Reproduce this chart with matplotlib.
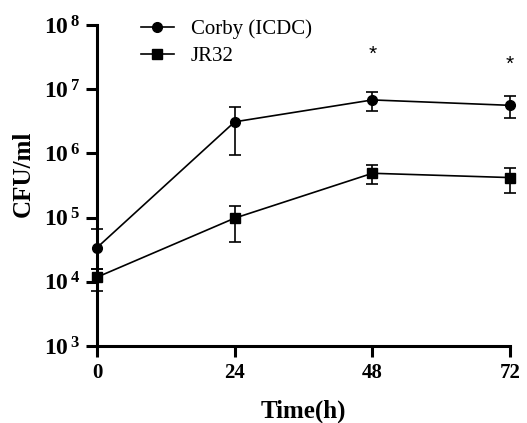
import numpy as np
import matplotlib.pyplot as plt
from matplotlib.lines import Line2D

plt.rcParams["font.family"] = ["Liberation Serif", "DejaVu Serif"]
plt.rcParams["mathtext.fontset"] = "custom"
plt.rcParams["mathtext.rm"] = "Liberation Serif"
plt.rcParams["mathtext.bf"] = "Liberation Serif:bold"

# values
time_h = [0, 24, 48, 72]
corby = [3.4e4, 3.1e6, 6.8e6, 5.6e6]
corby_hi = [6.6e4, 5.2e6, 9.1e6, 7.9e6]
corby_lo = [1.6e4, 9.3e5, 4.6e6, 3.5e6]
jr32 = [1.18e4, 9.8e4, 4.9e5, 4.2e5]
jr32_hi = [1.6e4, 1.5e5, 6.6e5, 6.0e5]
jr32_lo = [7.2e3, 4.2e4, 3.3e5, 2.4e5]
star_x = [48, 72]
star_y = [10**7.54, 10**7.39]
yticks = [1e3, 1e4, 1e5, 1e6, 1e7, 1e8]
ytick_labels = [r"$\mathbf{10^{\,%d}}$" % e for e in range(3, 9)]
xticks = [0, 24, 48, 72]

fig = plt.figure(figsize=(5.27, 4.23), dpi=100)
ax = fig.add_axes([0.184, 0.182, 0.784, 0.759])

series = [
    ("Corby (ICDC)", corby, corby_lo, corby_hi, "o"),
    ("JR32", jr32, jr32_lo, jr32_hi, "s"),
]
handles = []
for name, y, lo, hi, mk in series:
    y = np.array(y)
    yerr = [y - np.array(lo), np.array(hi) - y]
    cont = ax.errorbar(time_h, y, yerr=yerr, color="black", marker=mk,
                       markersize=7, linewidth=1.2, elinewidth=1.2,
                       capsize=4, capthick=1.2)
    for art in cont.get_children():
        art.set_clip_on(False)
    handles.append(Line2D([], [], color="black", marker=mk, markersize=7,
                          linewidth=1.2, label=name))

for x, y in zip(star_x, star_y):
    ax.text(x, y, "*", family="Liberation Sans", fontsize=15,
            ha="center", va="center")

ax.set_yscale("log")
ax.set_ylim(1e3, 1e8)
ax.set_xlim(0, 72)
ax.set_yticks(yticks)
ax.set_yticklabels(ytick_labels, fontsize=17)
ax.minorticks_off()
ax.set_xticks(xticks)
ax.set_xticklabels([str(t) for t in xticks], fontsize=15, fontweight="bold")

for side in ["top", "right"]:
    ax.spines[side].set_visible(False)
for side in ["left", "bottom"]:
    ax.spines[side].set_linewidth(2.2)
ax.tick_params(width=2.2, length=8, pad=4)

ax.set_xlabel("Time(h)", fontsize=18, fontweight="bold", labelpad=12)
ax.set_ylabel("CFU/ml", fontsize=18, fontweight="bold")
ax.yaxis.set_label_coords(-0.15, 0.536)

ax.legend(handles=handles, loc="upper left", bbox_to_anchor=(0.06, 1.075),
          frameon=False, fontsize=15, handlelength=1.6, handletextpad=0.8,
          labelspacing=0.35)

fig.savefig("out.png", dpi=100)
